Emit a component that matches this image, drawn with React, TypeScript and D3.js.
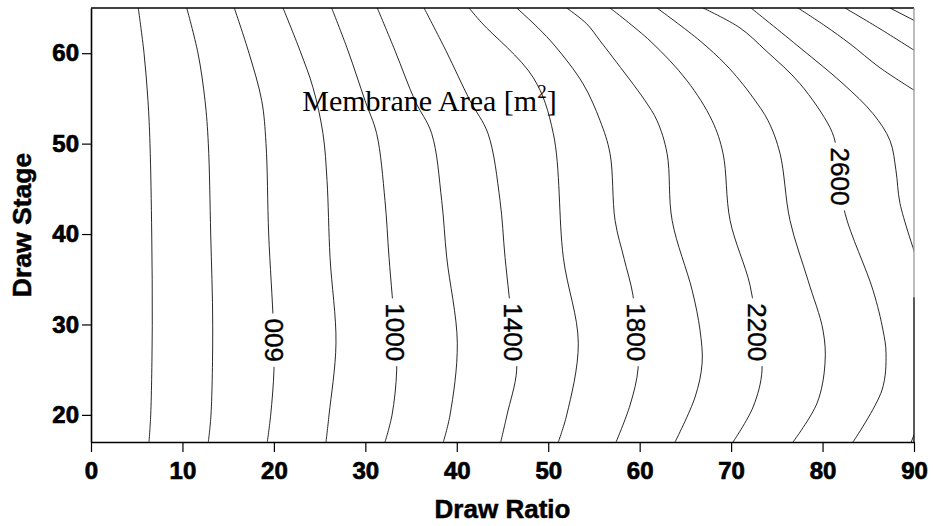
import React, { useEffect, useRef } from "react";
import * as d3 from "d3";

const W = 933;
const H = 526;
const margin = { top: 8, right: 19, bottom: 84, left: 91 };

const xTicks = [0, 10, 20, 30, 40, 50, 60, 70, 80, 90];
const yTicks = [20, 30, 40, 50, 60];

// contour lines, [draw ratio, draw stage]
const c200 = [[5.17, 65], [5.8, 60], [6.23, 54.75], [6.45, 50], [6.64, 40], [6.7, 29.9], [6.53, 20], [6.34, 17]];
const c400 = [[10.47, 65], [11.7, 60], [12.47, 54.75], [12.83, 50], [13.09, 40], [13.31, 29.9], [13.12, 20], [12.83, 17]];
const c600 = [[15.67, 65], [17.28, 60], [18.67, 54.75], [19.14, 50], [19.43, 40], [19.94, 30], [20.01, 25], [19.65, 20], [19.28, 17]];
const c800 = [[21.0, 65], [22.86, 60.27], [24.28, 56.18], [25.37, 51.1], [25.81, 45.92], [26.14, 37.42], [26.79, 27.93], [26.03, 19.98], [25.7, 17]];
const c1000 = [[26.32, 65], [28.11, 60.27], [29.97, 54.75], [31.24, 51.1], [32.15, 43.71], [32.59, 37.42], [33.25, 29.14], [33.43, 24.95], [32.92, 19.98], [32.15, 17]];
const c1200 = [[31.31, 65], [33.25, 60.27], [35.43, 54.75], [37.26, 51.1], [38.35, 43.71], [38.9, 37.42], [40.06, 27.93], [39.26, 19.98], [38.53, 17]];
const c1400 = [[36.42, 65], [38.82, 60.27], [41.45, 54.75], [43.42, 51.1], [44.73, 43.71], [45.28, 37.42], [46.15, 29.14], [46.55, 24.95], [45.49, 19.98], [44.81, 17]];
const c1600 = [[41.34, 65], [42.73, 63.36], [48.37, 57.29], [50.56, 51.1], [51.65, 37.42], [53.29, 27.93], [52.02, 19.98], [51.1, 17]];
const c1800 = [[46.56, 65], [48.89, 62.8], [50.74, 60.8], [53.81, 56.62], [55.67, 52.54], [56.76, 48.9], [57.31, 41.5], [58.29, 37.31], [59.27, 33.22], [59.61, 29.14], [59.83, 25.17], [58.95, 21.08], [57.42, 17]];
const c2000 = [[52.02, 65], [54.21, 63.25], [55.67, 61.37], [57.09, 59.5], [60.59, 54.75], [61.9, 52.54], [63.0, 48.9], [63.55, 41.5], [65.74, 33.78], [66.6, 29.36], [66.83, 25.72], [66.06, 21.97], [63.87, 17]];
const c2200 = [[56.76, 65], [61.13, 61.37], [65.18, 56.96], [67.92, 52.54], [69.12, 48.9], [69.89, 41.5], [72.07, 34.33], [72.83, 29.14], [73.38, 24.95], [72.4, 20.86], [70.21, 17]];
const c2400 = [[61.9, 65], [66.6, 61.37], [69.33, 58.83], [70.97, 56.96], [72.4, 55.08], [74.04, 52.54], [75.35, 48.9], [76.44, 41.5], [78.41, 34.88], [80.05, 29.36], [80.27, 25.72], [79.4, 21.3], [76.77, 17]];
const c2600 = [[66.93, 65], [70.97, 62.8], [73.82, 60.27], [77.54, 56.62], [80.82, 51.77], [81.47, 49.78], [81.91, 46.36], [82.46, 42.28], [85.52, 33.78], [86.61, 29.36], [86.94, 26.82], [86.5, 22.74], [83.33, 17]];
const c2800 = [[72.18, 65], [77.54, 60.6], [82.24, 56.62], [85.52, 53.31], [87.38, 50.33], [88.03, 47.02], [88.47, 43.38], [90.1, 37.86]];
const c2800b = [[89.7, 17], [90.2, 18.3]];
const c3000 = [[77.32, 65], [80.27, 63.03], [83.0, 61.04], [86.28, 58.39], [90.1, 55.85]];
const c3200 = [[82.46, 65], [86.28, 62.7], [90.1, 60.27]];
const c3400 = [[87.38, 65], [90.1, 63.58]];

const levels = [200, 400, 600, 800, 1000, 1200, 1400, 1600, 1800, 2000, 2200, 2400, 2600, 2800, 2800, 3000, 3200, 3400];
const lineSets = [c200, c400, c600, c800, c1000, c1200, c1400, c1600, c1800, c2000, c2200, c2400, c2600, c2800, c2800b, c3000, c3200, c3400];

const labelLevels = [600, 1000, 1400, 1800, 2200, 2600];
const labelPos = [[20.02, 28.26], [33.25, 29.14], [46.15, 29.14], [59.61, 29.14], [72.83, 29.14], [81.91, 46.36]];

export default function App() {
  const ref = useRef<SVGSVGElement>(null);

  useEffect(() => {
    const svg = d3.select(ref.current);
    svg.selectAll("*").remove();

    const x = d3.scaleLinear().domain([0, 90]).range([margin.left, W - margin.right]);
    const y = d3.scaleLinear().domain([17, 65]).range([H - margin.bottom, margin.top]);

    svg.append("defs").append("clipPath").attr("id", "plot")
      .append("rect")
      .attr("x", x(0)).attr("y", y(65))
      .attr("width", x(90) - x(0)).attr("height", y(17) - y(65));

    const line = d3.line<number[]>()
      .x(d => x(d[0]))
      .y(d => y(d[1]))
      .curve(d3.curveCatmullRom.alpha(0.5));

    const contours = lineSets.map((pts, i) => ({ level: levels[i], pts }));

    svg.append("g")
      .attr("clip-path", "url(#plot)")
      .selectAll("path")
      .data(contours)
      .join("path")
      .attr("d", d => line(d.pts))
      .style("fill", "none")
      .style("stroke", "#111")
      .style("stroke-width", 0.9);

    // contour labels
    const lab = svg.append("g");
    labelLevels.forEach((lv, i) => {
      const [lx, ly] = labelPos[i];
      const ang = lv === 600 ? -90 : 90;
      const g = lab.append("g").attr("transform", `translate(${x(lx)},${y(ly)}) rotate(${ang})`);
      const bg = g.append("rect").style("fill", "#fff");
      const t = g.append("text")
        .attr("text-anchor", "middle")
        .attr("dominant-baseline", "central")
        .style("font-family", "'Liberation Sans', Arial, sans-serif")
        .style("font-size", "26px")
        .style("fill", "#000")
        .style("stroke", "#000")
        .style("stroke-width", 0.4)
        .text(lv);
      const len = (t.node() as SVGTextElement).getComputedTextLength();
      bg.attr("x", -len / 2 - 5).attr("y", -12).attr("width", len + 10).attr("height", 24);
    });

    // title
    const title = svg.append("text")
      .attr("x", x(23.1))
      .attr("y", y(53.65))
      .style("font-family", "'Liberation Serif', 'Times New Roman', serif")
      .style("font-size", "30px")
      .style("fill", "#000");
    title.append("tspan").text("Membrane Area [m");
    title.append("tspan").attr("dy", -13).style("font-size", "19px").text("2");
    title.append("tspan").attr("dy", 13).text("]");

    // borders
    svg.append("line")
      .attr("x1", x(0)).attr("x2", x(90)).attr("y1", y(65)).attr("y2", y(65))
      .style("stroke", "#000").style("stroke-width", 1.3);
    svg.append("line")
      .attr("x1", x(90)).attr("x2", x(90)).attr("y1", y(65)).attr("y2", y(33))
      .style("stroke", "#999").style("stroke-width", 1.3);
    svg.append("line")
      .attr("x1", x(90)).attr("x2", x(90)).attr("y1", y(33)).attr("y2", y(17))
      .style("stroke", "#000").style("stroke-width", 1.3);

    const gx = svg.append("g")
      .attr("transform", `translate(0,${y(17)})`)
      .call(d3.axisBottom(x).tickValues(xTicks).tickSize(10).tickSizeOuter(0).tickPadding(10));
    const gy = svg.append("g")
      .attr("transform", `translate(${x(0)},0)`)
      .call(d3.axisLeft(y).tickValues(yTicks).tickSize(9).tickSizeOuter(0).tickPadding(3));

    [gx, gy].forEach(g => {
      g.select(".domain").style("stroke", "#000").style("stroke-width", 1.6);
      g.selectAll(".tick line").style("stroke", "#000").style("stroke-width", 1.2);
      g.selectAll(".tick text")
        .style("font-family", "'Liberation Sans', Arial, sans-serif")
        .style("font-weight", "bold")
        .style("font-size", "24px")
        .style("fill", "#000")
        .style("stroke", "#000")
        .style("stroke-width", 0.7);
    });

    svg.append("text")
      .attr("x", (x(0) + x(90)) / 2)
      .attr("y", 518)
      .attr("text-anchor", "middle")
      .style("font-family", "'Liberation Sans', Arial, sans-serif")
      .style("font-weight", "bold")
      .style("font-size", "26px")
      .style("stroke", "#000")
      .style("stroke-width", 0.5)
      .text("Draw Ratio");

    svg.append("text")
      .attr("transform", `translate(31,${(y(17) + y(65)) / 2}) rotate(-90)`)
      .attr("text-anchor", "middle")
      .style("font-family", "'Liberation Sans', Arial, sans-serif")
      .style("font-weight", "bold")
      .style("font-size", "26.5px")
      .style("stroke", "#000")
      .style("stroke-width", 0.5)
      .text("Draw Stage");
  }, []);

  return (
    <svg ref={ref} width={W} height={H} style={{ position: "absolute", left: 0, top: 0, background: "#fff" }}></svg>
  );
}
